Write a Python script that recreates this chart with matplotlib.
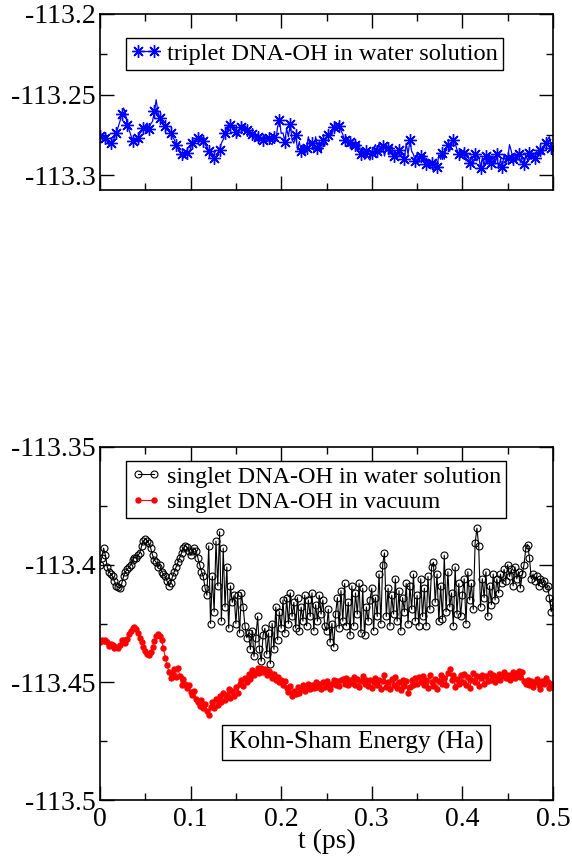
import matplotlib
matplotlib.use("Agg")
import matplotlib.pyplot as plt
from matplotlib.ticker import MultipleLocator, FormatStrFormatter
import numpy as np

plt.rcParams['font.family'] = ['Liberation Serif', 'DejaVu Serif']

# triplet DNA-OH in water solution (Ha), sampled every 0.002 ps
triplet_water = [
    -113.2757, -113.2765, -113.2778, -113.2770, -113.2790, -113.2809, -113.2798, -113.2785, -113.2766, -113.2740,
    -113.2700, -113.2665, -113.2620, -113.2582, -113.2610, -113.2690, -113.2716, -113.2750, -113.2788, -113.2795,
    -113.2775, -113.2766, -113.2740, -113.2726, -113.2705, -113.2690, -113.2675, -113.2710, -113.2680, -113.2665,
    -113.2603, -113.2531, -113.2610, -113.2644, -113.2660, -113.2685, -113.2696, -113.2720, -113.2716, -113.2740,
    -113.2760, -113.2778, -113.2810, -113.2835, -113.2850, -113.2870, -113.2891, -113.2880, -113.2860, -113.2870,
    -113.2830, -113.2798, -113.2780, -113.2790, -113.2765, -113.2775, -113.2757, -113.2785, -113.2809, -113.2820,
    -113.2850, -113.2864, -113.2880, -113.2891, -113.2885, -113.2860, -113.2840, -113.2800, -113.2778, -113.2740,
    -113.2700, -113.2685, -113.2690, -113.2705, -113.2695, -113.2730, -113.2757, -113.2720, -113.2700, -113.2685,
    -113.2690, -113.2720, -113.2736, -113.2760, -113.2745, -113.2775, -113.2788, -113.2760, -113.2790, -113.2770,
    -113.2778, -113.2750, -113.2795, -113.2770, -113.2800, -113.2809, -113.2760, -113.2790, -113.2700, -113.2655,
    -113.2740, -113.2736, -113.2790, -113.2710, -113.2760, -113.2680, -113.2780, -113.2800, -113.2750, -113.2840,
    -113.2790, -113.2850, -113.2810, -113.2871, -113.2830, -113.2760, -113.2820, -113.2800, -113.2845, -113.2760,
    -113.2830, -113.2790, -113.2860, -113.2780, -113.2820, -113.2765, -113.2750, -113.2736, -113.2747, -113.2700,
    -113.2675, -113.2690, -113.2695, -113.2720, -113.2747, -113.2780, -113.2760, -113.2820, -113.2790, -113.2840,
    -113.2800, -113.2810, -113.2850, -113.2800, -113.2870, -113.2830, -113.2900, -113.2850, -113.2890, -113.2905,
    -113.2860, -113.2830, -113.2809, -113.2850, -113.2800, -113.2860, -113.2820, -113.2880, -113.2830, -113.2829,
    -113.2870, -113.2810, -113.2880, -113.2850, -113.2900, -113.2840, -113.2881, -113.2860, -113.2900, -113.2800,
    -113.2870, -113.2780, -113.2850, -113.2870, -113.2910, -113.2860, -113.2920, -113.2880, -113.2912, -113.2870,
    -113.2930, -113.2900, -113.2953, -113.2920, -113.2980, -113.2900, -113.2950, -113.2870, -113.2900, -113.2860,
    -113.2900, -113.2830, -113.2809, -113.2850, -113.2809, -113.2780, -113.2800, -113.2840, -113.2870, -113.2840,
    -113.2891, -113.2860, -113.2910, -113.2870, -113.2920, -113.2880, -113.2930, -113.2870, -113.2910, -113.2880,
    -113.2953, -113.2890, -113.2940, -113.2880, -113.2930, -113.2870, -113.2920, -113.2880, -113.2930, -113.2870,
    -113.2960, -113.2900, -113.2950, -113.2870, -113.2920, -113.2890, -113.2809, -113.2850, -113.2900, -113.2860,
    -113.2910, -113.2870, -113.2920, -113.2880, -113.2930, -113.2870, -113.2910, -113.2860, -113.2900, -113.2860,
    -113.2890, -113.2850, -113.2880, -113.2840, -113.2870, -113.2830, -113.2800, -113.2778, -113.2760, -113.2830,
    -113.2880,
]

# singlet DNA-OH in water solution (Ha)
singlet_water = [
    -113.4000, -113.3970, -113.3930, -113.3960, -113.4010, -113.4030, -113.4040, -113.4050, -113.4070, -113.4090,
    -113.4095, -113.4100, -113.4080, -113.4050, -113.4030, -113.4020, -113.4010, -113.4000, -113.3980, -113.3970,
    -113.3970, -113.3960, -113.3950, -113.3920, -113.3900, -113.3890, -113.3900, -113.3910, -113.3930, -113.3960,
    -113.3980, -113.3990, -113.4010, -113.4000, -113.4030, -113.4040, -113.4050, -113.4070, -113.4090, -113.4080,
    -113.4050, -113.4030, -113.4010, -113.3990, -113.3970, -113.3950, -113.3930, -113.3920, -113.3925, -113.3940,
    -113.3960, -113.3940, -113.3930, -113.3940, -113.3970, -113.4000, -113.4030, -113.4050, -113.4100, -113.4130,
    -113.3920, -113.4250, -113.4050, -113.4200, -113.3900, -113.4090, -113.3860, -113.4240, -113.3930, -113.4180,
    -113.4010, -113.4270, -113.4090, -113.4160, -113.4130, -113.4250, -113.4130, -113.4290, -113.4120, -113.4180,
    -113.4260, -113.4310, -113.4290, -113.4360, -113.4280, -113.4390, -113.4310, -113.4220, -113.4360, -113.4410,
    -113.4300, -113.4270, -113.4380, -113.4290, -113.4420, -113.4250, -113.4360, -113.4180, -113.4320, -113.4200,
    -113.4270, -113.4150, -113.4290, -113.4140, -113.4250, -113.4120, -113.4220, -113.4160, -113.4270, -113.4140,
    -113.4280, -113.4180, -113.4240, -113.4130, -113.4260, -113.4150, -113.4220, -113.4120, -113.4280, -113.4170,
    -113.4240, -113.4130, -113.4210, -113.4150, -113.4260, -113.4280, -113.4190, -113.4330, -113.4250, -113.4350,
    -113.4210, -113.4140, -113.4270, -113.4110, -113.4240, -113.4080, -113.4260, -113.4160, -113.4300, -113.4090,
    -113.4260, -113.4120, -113.4210, -113.4080, -113.4290, -113.4100, -113.4300, -113.4180, -113.4240, -113.4150,
    -113.4100, -113.4280, -113.4140, -113.4220, -113.4040, -113.4250, -113.4000, -113.3950, -113.4220, -113.4100,
    -113.4260, -113.4130, -113.4210, -113.4060, -113.4240, -113.4110, -113.4280, -113.4140, -113.4200, -113.4080,
    -113.4250, -113.4090, -113.4190, -113.4040, -113.4240, -113.4130, -113.4260, -113.4060, -113.4220, -113.4100,
    -113.4260, -113.4050, -113.4190, -113.4010, -113.3990, -113.4160, -113.4040, -113.4240, -113.4090, -113.4230,
    -113.3960, -113.4200, -113.4030, -113.4180, -113.4120, -113.4260, -113.4010, -113.4210, -113.4080, -113.4220,
    -113.4130, -113.4060, -113.4250, -113.4030, -113.4150, -113.4080, -113.4190, -113.3910, -113.3845, -113.3920,
    -113.4180, -113.4060, -113.4140, -113.4030, -113.4220, -113.4090, -113.4170, -113.4040, -113.4150, -113.4060,
    -113.4120, -113.4040, -113.4080, -113.4020, -113.4070, -113.4000, -113.4050, -113.4020, -113.4090, -113.4010,
    -113.4060, -113.4030, -113.4100, -113.4040, -113.4000, -113.3930, -113.3915, -113.3970, -113.4060, -113.4040,
    -113.4070, -113.4050, -113.4090, -113.4060, -113.4080, -113.4070, -113.4100, -113.4090, -113.4140, -113.4200,
    -113.4160,
]

# singlet DNA-OH in vacuum (Ha)
singlet_vacuum = [
    -113.4327, -113.4320, -113.4325, -113.4322, -113.4330, -113.4345, -113.4335, -113.4342, -113.4355, -113.4348,
    -113.4352, -113.4340, -113.4320, -113.4318, -113.4332, -113.4315, -113.4295, -113.4280, -113.4268, -113.4264,
    -113.4275, -113.4290, -113.4312, -113.4330, -113.4348, -113.4365, -113.4380, -113.4384, -113.4370, -113.4350,
    -113.4325, -113.4305, -113.4296, -113.4302, -113.4320, -113.4355, -113.4395, -113.4426, -113.4455, -113.4480,
    -113.4462, -113.4445, -113.4478, -113.4440, -113.4472, -113.4511, -113.4485, -113.4505, -113.4525, -113.4510,
    -113.4540, -113.4555, -113.4538, -113.4570, -113.4584, -113.4600, -113.4575, -113.4610, -113.4590, -113.4622,
    -113.4640, -113.4605, -113.4582, -113.4610, -113.4570, -113.4595, -113.4560, -113.4585, -113.4545, -113.4575,
    -113.4552, -113.4530, -113.4565, -113.4535, -113.4558, -113.4520, -113.4545, -113.4505, -113.4490, -113.4515,
    -113.4480, -113.4498, -113.4465, -113.4485, -113.4448, -113.4470, -113.4455, -113.4440, -113.4462, -113.4438,
    -113.4458, -113.4445, -113.4470, -113.4450, -113.4462, -113.4480, -113.4465, -113.4490, -113.4478, -113.4500,
    -113.4488, -113.4510, -113.4495, -113.4525, -113.4540, -113.4515, -113.4560, -113.4535, -113.4548, -113.4520,
    -113.4545, -113.4530, -113.4510, -113.4538, -113.4522, -113.4505, -113.4530, -113.4512, -113.4525, -113.4498,
    -113.4520, -113.4505, -113.4528, -113.4500, -113.4518, -113.4495, -113.4512, -113.4530, -113.4505, -113.4488,
    -113.4510, -113.4495, -113.4515, -113.4492, -113.4485, -113.4505, -113.4480, -113.4512, -113.4490, -113.4502,
    -113.4478, -113.4510, -113.4485, -113.4520, -113.4495, -113.4475, -113.4505, -113.4488, -113.4515, -113.4492,
    -113.4525, -113.4500, -113.4480, -113.4512, -113.4490, -113.4528, -113.4495, -113.4470, -113.4518, -113.4498,
    -113.4530, -113.4485, -113.4510, -113.4478, -113.4525, -113.4500, -113.4532, -113.4488, -113.4515, -113.4495,
    -113.4545, -113.4520, -113.4490, -113.4512, -113.4480, -113.4505, -113.4478, -113.4500, -113.4475, -113.4510,
    -113.4488, -113.4522, -113.4470, -113.4498, -113.4515, -113.4485, -113.4530, -113.4495, -113.4468, -113.4505,
    -113.4480, -113.4512, -113.4460, -113.4445, -113.4490, -113.4470, -113.4520, -113.4485, -113.4505, -113.4470,
    -113.4498, -113.4465, -113.4510, -113.4478, -113.4525, -113.4488, -113.4460, -113.4500, -113.4472, -113.4515,
    -113.4482, -113.4468, -113.4505, -113.4475, -113.4495, -113.4462, -113.4488, -113.4470, -113.4500, -113.4478,
    -113.4465, -113.4490, -113.4472, -113.4458, -113.4482, -113.4468, -113.4492, -113.4470, -113.4455, -113.4480,
    -113.4460, -113.4450, -113.4478, -113.4458, -113.4495, -113.4505, -113.4488, -113.4510, -113.4495, -113.4520,
    -113.4500, -113.4485, -113.4512, -113.4530, -113.4495, -113.4508, -113.4480, -113.4500, -113.4525, -113.4505,
    -113.4518,
]

t_trip = np.linspace(0, 0.5, len(triplet_water))
t_sw = np.linspace(0, 0.5, len(singlet_water))
t_sv = np.linspace(0, 0.5, len(singlet_vacuum))

fig = plt.figure(figsize=(5.72, 8.56), dpi=100)
ax1 = fig.add_axes([100/572, 1 - 190/856, 453/572, 176/856])
ax2 = fig.add_axes([100/572, 1 - 800/856, 453/572, 353/856])

# top panel
ax1.plot(t_trip, triplet_water, color='#0000ff', lw=0.9, marker=(8, 2, 0),
         markersize=9, markevery=3, markeredgewidth=1.0,
         label='triplet DNA-OH in water solution')
ax1.set_xlim(0, 0.5)
ax1.set_ylim(-113.309, -113.2)
ax1.set_yticks([-113.3, -113.25, -113.2])
ax1.yaxis.set_major_formatter(FormatStrFormatter('%g'))
ax1.yaxis.set_minor_locator(MultipleLocator(0.025))
ax1.tick_params(labelbottom=False)
ax1.legend(loc='upper left', bbox_to_anchor=(0.057, 0.864), fontsize=17.6,
           fancybox=False, edgecolor='black', framealpha=1, numpoints=2,
           handlelength=1.25, handletextpad=0.25, borderpad=0.2, borderaxespad=0)

# bottom panel
ax2.plot(t_sw, singlet_water, color='black', lw=0.8, marker='o', markersize=5,
         markerfacecolor='none', markeredgewidth=0.8,
         label='singlet DNA-OH in water solution')
ax2.plot(t_sv, singlet_vacuum, color='#ff0000', lw=0.8, marker='o', markersize=4.6,
         markeredgewidth=0, label='singlet DNA-OH in vacuum')
ax2.set_xlim(0, 0.5)
ax2.set_ylim(-113.5, -113.35)
ax2.set_yticks([-113.5, -113.45, -113.4, -113.35])
ax2.yaxis.set_major_formatter(FormatStrFormatter('%g'))
ax2.yaxis.set_minor_locator(MultipleLocator(0.025))
ax2.set_xlabel('t (ps)', fontsize=20, labelpad=-2)
ax2.legend(loc='upper left', bbox_to_anchor=(0.057, 0.96), fontsize=17.4,
           fancybox=False, edgecolor='black', framealpha=1, numpoints=2,
           handlelength=1.25, handletextpad=0.25, borderpad=0.2, labelspacing=0.15,
           borderaxespad=0)
ax2.text(0.565, 0.163, 'Kohn-Sham Energy (Ha)', transform=ax2.transAxes,
         ha='center', va='center', fontsize=18.3,
         bbox=dict(boxstyle='square,pad=0.25', facecolor='white', edgecolor='black', lw=1))

for ax in (ax1, ax2):
    ax.xaxis.set_major_locator(MultipleLocator(0.1))
    ax.xaxis.set_minor_locator(MultipleLocator(0.05))
    ax.xaxis.set_major_formatter(FormatStrFormatter('%g'))
    ax.tick_params(which='both', direction='in', top=True, right=True, width=1)
    ax.tick_params(which='major', length=10, labelsize=20)
    ax.tick_params(which='minor', length=5)
    ax.tick_params(axis='y', pad=3)
    ax.tick_params(axis='x', pad=5)
    for s in ax.spines.values():
        s.set_linewidth(1.2)

fig.savefig('out.png', dpi=100)
